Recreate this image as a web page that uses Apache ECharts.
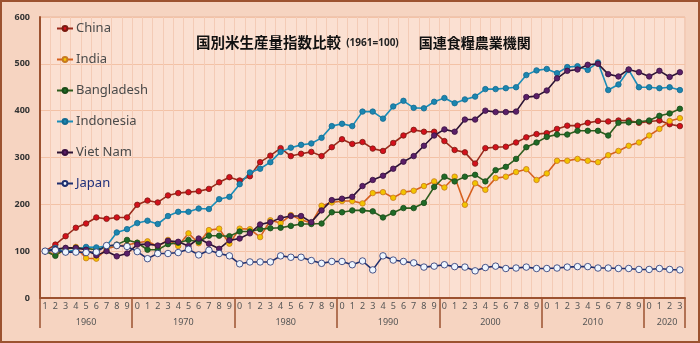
<!DOCTYPE html>
<html><head><meta charset="utf-8">
<script src="https://cdn.jsdelivr.net/npm/echarts@6/dist/echarts.min.js"></script>
<style>html,body{margin:0;padding:0;background:#f6d4c1}#c{width:700px;height:343px}</style>
</head><body><div id="c"></div>
<script>
var years = [];
for (var y = 1961; y <= 2023; y++) years.push(String(y));

var china = [100,114,132,150,159,172,169,172,172,199, 208,204,219,224,226,228,233,247,258,251, 260,290,304,320,303,308,312,303,322,339, 329,333,319,314,331,347,359,355,355,335, 316,311,287,320,322,323,332,343,350,352, 361,368,368,374,378,377,379,379,374,377, 379,371,367];
var india = [100,93,104,109,85,84,105,111,113,118, 121,110,124,111,138,117,145,148,116,148, 147,130,166,160,177,167,160,197,204,207, 207,202,224,226,214,226,229,239,249,236, 259,199,245,231,256,259,269,275,252,266, 293,293,297,293,290,305,314,325,332,347, 361,378,384];
var bangladesh = [100,90,106,107,106,103,110,114,124,118, 103,103,115,118,124,120,133,133,132,142, 142,147,149,150,154,158,158,159,183,183, 187,187,185,172,182,192,192,203,237,259, 249,259,263,249,273,280,297,322,332,344, 349,349,357,357,357,347,374,375,376,379, 389,394,404];
var indonesia = [100,107,98,103,109,108,111,140,147,160, 165,158,175,184,184,191,190,211,216,243, 268,276,290,312,321,327,330,342,367,372, 367,398,398,383,409,421,406,405,419,427, 416,424,430,446,446,448,450,476,486,489, 480,493,495,487,503,444,456,487,450,450, 448,450,444];
var vietnam = [100,104,107,107,103,91,100,89,95,114, 115,112,122,120,111,127,116,105,123,127, 138,157,162,171,175,175,162,187,209,212, 216,239,252,261,276,291,303,325,347,360, 355,381,381,400,397,397,398,429,431,443, 469,485,488,498,500,478,473,488,482,473, 485,472,482];
var japan = [100,102,98,98,97,98,112,112,110,99, 84,95,95,97,104,92,102,95,90,73, 77,77,77,90,87,87,80,74,78,78, 71,79,60,90,81,78,75,66,68,71, 67,66,58,65,68,63,64,66,63,63, 64,66,67,67,64,64,63,63,61,61, 63,61,60];

var seriesNames = ['China','India','Bangladesh','Indonesia','Viet Nam','Japan'];
var decadeTicks = [1960.5,1969.5,1979.5,1989.5,1999.5,2009.5,2019.5,2023.5];
var decadeLabelPos = [1965,1974.5,1984.5,1994.5,2004.5,2014.5,2021.75];

var brown = '#9c5230';
function mk(name, data, line, fill, border, sym, size) {
  return {
    name: name, type: 'line', data: data, xAxisIndex: 0,
    symbol: sym || 'circle', symbolSize: size || 5.5,
    lineStyle: { color: line, width: 1.6 },
    itemStyle: { color: fill, borderColor: border, borderWidth: 0.8 },
    emphasis: { disabled: true }, animation: false
  };
}

var chart = echarts.init(document.getElementById('c'));
chart.setOption({
  backgroundColor: '#f6d4c1',
  animation: false,
  title: {
    left: 196, top: 35, padding: 0,
    text: '{a|国別米生産量指数比較}{b|  (1961=100)}{c|国連食糧農業機関}',
    textStyle: {
      rich: {
        a: { fontSize: 14.5, color: '#111', fontFamily: 'Noto Sans CJK JP' },
        b: { fontSize: 10, color: '#222', fontFamily: 'Noto Sans', padding: [2,20,0,0] },
        c: { fontSize: 14, color: '#111', fontFamily: 'Noto Sans CJK JP' }
      }
    }
  },
  legend: {
    orient: 'vertical', left: 51, top: 17, itemGap: 18, itemWidth: 16, itemHeight: 6,
    textStyle: { fontSize: 13, color: '#4a4a4a', fontFamily: 'Noto Sans', padding: [0,0,0,-2] },
    data: seriesNames.map(function (n) {
      return n === 'Japan' ? { name: n, textStyle: { color: '#1f2f7a' } } : { name: n };
    })
  },
  graphic: [{
    type: 'rect', shape: { x: 1, y: 1, width: 698, height: 341 }, silent: true, z: 100,
    style: { fill: 'none', stroke: brown, lineWidth: 2 }
  }],
  grid: { left: 40, right: 15, top: 17, bottom: 45, show: true,
          backgroundColor: '#fbe0d2', borderColor: '#e9b79c', borderWidth: 1 },
  xAxis: [{
    type: 'category', data: years, boundaryGap: true, position: 'bottom',
    axisLine: { lineStyle: { color: brown, width: 2 } },
    axisTick: { show: false },
    axisLabel: { interval: 0, fontSize: 9, color: '#555', margin: 4, fontFamily: 'Noto Sans',
      formatter: function (v) { return String(Number(v) % 10); } },
    splitLine: { show: true, interval: 0, lineStyle: { color: '#f4cbb6', width: 1 } }
  }, {
    type: 'value', position: 'bottom', min: 1960.5, max: 2023.5,
    axisLine: { show: false },
    splitLine: { show: false },
    axisTick: { show: true, customValues: decadeTicks, length: 30, lineStyle: { color: brown, width: 1.5 } },
    axisLabel: { customValues: decadeLabelPos, fontSize: 9, color: '#555', margin: 20, fontFamily: 'Noto Sans',
      formatter: function (v) { return String(Math.floor(v / 10) * 10); } }
  }],
  yAxis: {
    type: 'value', min: 0, max: 600, interval: 100,
    axisLine: { show: true, lineStyle: { color: brown, width: 2 } },
    axisTick: { show: false },
    axisLabel: { fontSize: 9, color: '#333', fontWeight: 'bold', margin: 10, fontFamily: 'Noto Sans' },
    splitLine: { lineStyle: { color: '#f3c2a6', width: 1.2 } }
  },
  series: [
    mk('China', china, '#9a2b1c', '#d4101c', '#7a1a10'),
    mk('India', india, '#d6601f', '#f2c400', '#c87a20'),
    mk('Bangladesh', bangladesh, '#2f5d1f', '#1f6a27', '#1a4a18'),
    mk('Indonesia', indonesia, '#1a8db8', '#1b86b0', '#146a90'),
    mk('Viet Nam', vietnam, '#2c1434', '#5a1f68', '#3a1040'),
    mk('Japan', japan, '#1f2f6e', '#eef6ff', '#1f2f6e', 'circle', 6.5)
  ]
});
</script></body></html>
